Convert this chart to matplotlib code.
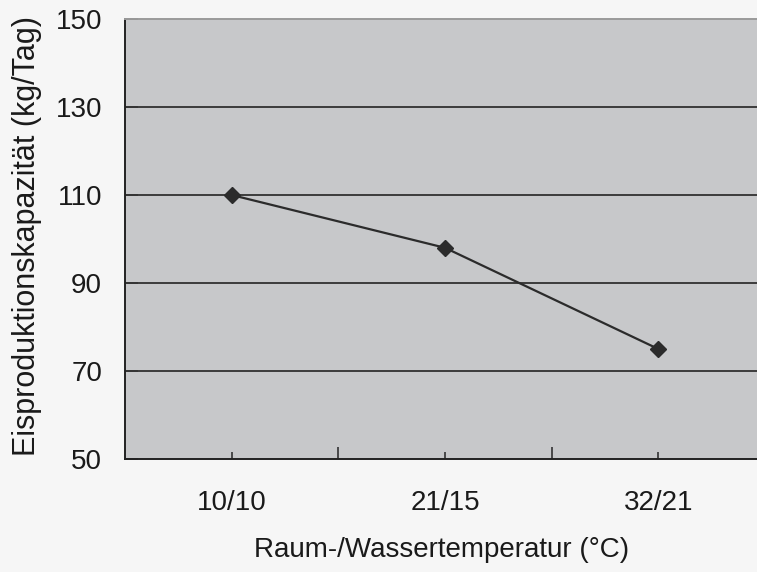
import numpy as np
from matplotlib import pyplot as plt

categories = ["10/10", "21/15", "32/21"]
capacity = [110, 98, 75]
y_ticks = [50, 70, 90, 110, 130, 150]

plt.rcParams["font.family"] = ["Liberation Sans", "DejaVu Sans"]

W, H = 757, 572
fig = plt.figure(figsize=(W / 100, H / 100), dpi=100, facecolor="#f6f6f6")
# plot area runs past the right edge of the picture (cropped in the original)
left, right, top, bottom = 125, 765, 19, 459
ax = fig.add_axes([left / W, 1 - bottom / H, (right - left) / W, (bottom - top) / H])
ax.set_facecolor("#c7c8ca")

x = np.arange(len(categories))
ax.set_xlim(-0.5, 2.5)
ax.set_ylim(50, 150)

for v in y_ticks[1:-1]:
    ax.axhline(v, color="#3c3c3c", lw=1.4, zorder=1)

ax.plot(x, capacity, color="#2b2b2b", lw=1.6, marker="D", ms=8.5,
        mfc="#2b2b2b", mec="#2b2b2b", zorder=3)

ax.set_yticks(y_ticks)
ax.set_xticks(x)
ax.set_xticklabels(categories)
ax.set_xticks([0.5, 1.5], minor=True)
ax.tick_params(axis="y", direction="in", length=9, width=1.2, color="#333333",
               labelsize=20, pad=16.5, labelcolor="#1a1a1a")
ax.tick_params(axis="x", which="major", direction="in", length=5, width=1.2,
               color="#333333", labelsize=20, pad=22, labelcolor="#1a1a1a")
ax.tick_params(axis="x", which="minor", direction="in", length=9, width=1.2,
               color="#333333")

for side in ["left", "bottom"]:
    ax.spines[side].set_color("#222222")
    ax.spines[side].set_linewidth(1.4)
ax.spines["top"].set_color("#9a9a9a")
ax.spines["top"].set_linewidth(1.4)
ax.spines["right"].set_visible(False)

ax.set_ylabel("Eisproduktionskapazität (kg/Tag)", fontsize=22, color="#1a1a1a")
ax.set_xlabel("Raum-/Wassertemperatur (°C)", fontsize=20, color="#1a1a1a")
ax.yaxis.set_label_coords(-(left - 42) / (right - left), (bottom - 236) / (bottom - top))
ax.xaxis.set_label_coords((442 - left) / (right - left), -(537 - bottom) / (bottom - top))

fig.savefig("out.png", dpi=100, facecolor=fig.get_facecolor())
